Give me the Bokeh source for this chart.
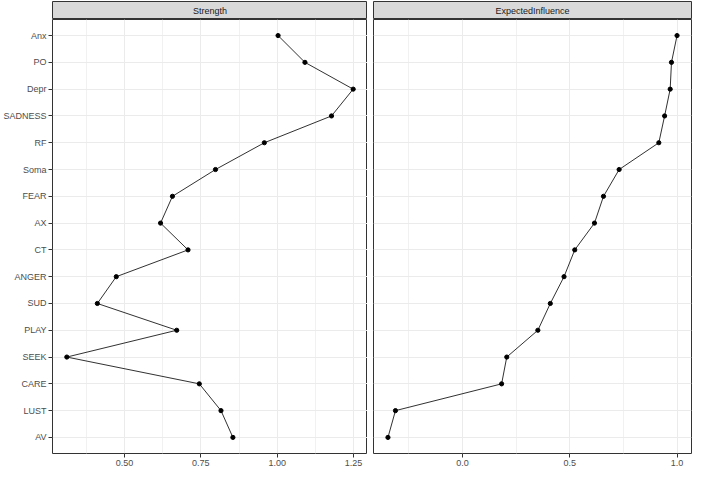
from bokeh.plotting import figure
from bokeh.layouts import row, column
from bokeh.models import FactorRange, Range1d, FixedTicker, Label, ColumnDataSource
from bokeh.embed import file_html
from bokeh.resources import INLINE

# ---- data ----
nodes = ["Anx", "PO", "Depr", "SADNESS", "RF", "Soma", "FEAR", "AX", "CT",
         "ANGER", "SUD", "PLAY", "SEEK", "CARE", "LUST", "AV"]
strength = [1.003, 1.091, 1.249, 1.178, 0.958, 0.798, 0.657, 0.618, 0.708,
            0.473, 0.411, 0.671, 0.311, 0.745, 0.816, 0.855]
expected_influence = [1.000, 0.974, 0.968, 0.942, 0.915, 0.730, 0.657, 0.615, 0.523,
                      0.473, 0.409, 0.351, 0.206, 0.182, -0.313, -0.348]
panel_titles = ["Strength", "ExpectedInfluence"]
strength_ticks = [0.50, 0.75, 1.00, 1.25]
strength_tick_labels = ["0.50", "0.75", "1.00", "1.25"]
strength_minor = [0.375, 0.625, 0.875, 1.125]
ei_ticks = [0.0, 0.5, 1.0]
ei_tick_labels = ["0.0", "0.5", "1.0"]
ei_minor = [-0.25, 0.25, 0.75]

FONT = "Liberation Sans"
BORDER = "#333333"
GRID = "#EBEBEB"

y_range = FactorRange(factors=nodes[::-1], range_padding=0.0125)


def make_panel(values, ticks, labels, minor, width, left, right, show_y):
    src = ColumnDataSource(dict(node=nodes, value=values))
    p = figure(width=width, height=449, y_range=y_range, output_backend="svg",
               toolbar_location=None, min_border_left=left, min_border_right=right,
               min_border_top=0, min_border_bottom=0)
    p.line(x="value", y="node", source=src, line_color="#1a1a1a", line_width=0.9)
    p.scatter(x="value", y="node", source=src, size=4.2, color="black")
    p.xaxis.ticker = FixedTicker(ticks=ticks, minor_ticks=minor)
    p.xaxis.major_label_overrides = {t: l for t, l in zip(ticks, labels)}
    for ax in p.axis:
        ax.axis_line_color = None
        ax.major_tick_line_color = BORDER
        ax.major_tick_out = 4
        ax.major_tick_in = 0
        ax.minor_tick_line_color = None
        ax.major_label_text_font = FONT
        ax.major_label_text_font_size = "9px"
        ax.major_label_text_color = "#4D4D4D"
        ax.major_label_standoff = 2
    if not show_y:
        p.yaxis.visible = False
    p.xgrid.grid_line_color = GRID
    p.xgrid.minor_grid_line_color = "#F1F1F1"
    p.ygrid.grid_line_color = GRID
    p.outline_line_color = BORDER
    p.outline_line_width = 1
    p.background_fill_color = "white"
    return p


def make_strip(title, width, left, right):
    s = figure(width=width, height=19, x_range=Range1d(0, 1), y_range=Range1d(0, 1),
               output_backend="svg", toolbar_location=None,
               x_axis_location=None, y_axis_location=None,
               min_border_left=left, min_border_right=right,
               min_border_top=1, min_border_bottom=0)
    s.grid.visible = False
    s.background_fill_color = "#D9D9D9"
    s.outline_line_color = BORDER
    s.outline_line_width = 1
    s.add_layout(Label(x=0.5, y=0.5, text=title, text_align="center",
                       text_baseline="middle", text_font=FONT,
                       text_font_style="normal",
                       text_font_size="9px", text_color="#1A1A1A"))
    return s


p1 = make_panel(strength, strength_ticks, strength_tick_labels, strength_minor,
                367, 50, 0, True)
p2 = make_panel(expected_influence, ei_ticks, ei_tick_labels, ei_minor,
                325, 6, 1, False)
s1 = make_strip(panel_titles[0], 367, 50, 0)
s2 = make_strip(panel_titles[1], 325, 6, 1)

layout = row(column(s1, p1), column(s2, p2))

open("out.html", "w").write(file_html(layout, INLINE))
